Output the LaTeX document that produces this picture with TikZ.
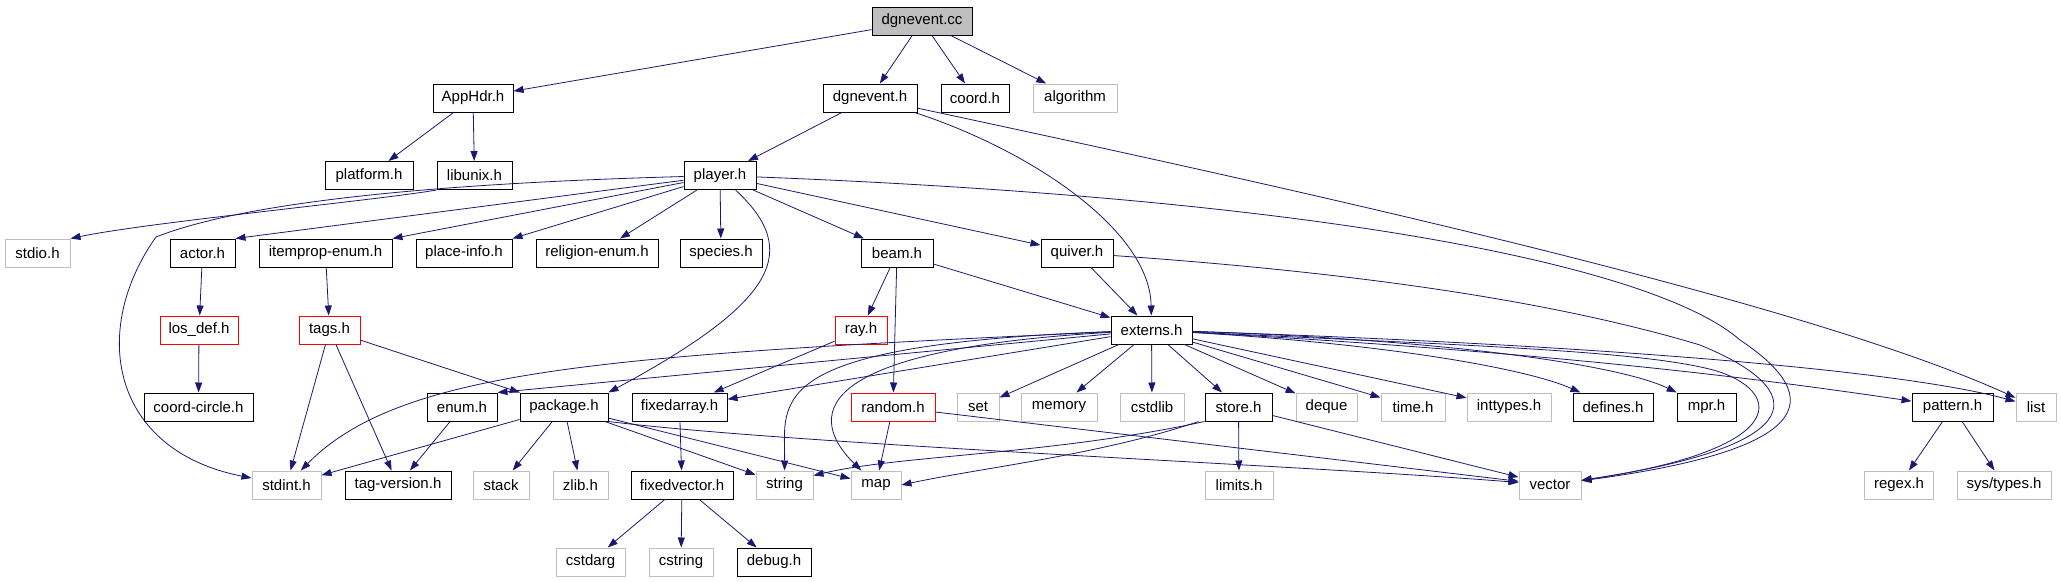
\documentclass[tikz,border=0pt]{standalone}
\usepackage{fontspec}
\setmainfont{Liberation Sans}
\usetikzlibrary{arrows.meta,calc}
\definecolor{navy}{RGB}{25,25,112}
\definecolor{grayb}{RGB}{191,191,191}
\begin{document}
\begin{tikzpicture}[x=1pt,y=-1pt,
  hdr/.style={draw=black, line width=1pt, fill=white, minimum height=28pt, inner sep=0pt, font=\fontsize{15}{18}\selectfont},
  sys/.style={hdr, draw=grayb},
  redb/.style={hdr, draw=red},
  root/.style={hdr, fill=grayb},
  conn/.style={draw=navy, line width=0.8pt, -{Triangle[length=10pt,width=7pt]}}]
\useasboundingbox (0,0) rectangle (2061,581);
% row 0
\node[root, minimum width=100pt] (cc) at (922,21) {dgnevent.cc};
% row 1
\node[hdr, minimum width=80pt] (apphdr) at (473,98) {AppHdr.h};
\node[hdr, minimum width=94pt] (dgh) at (870,98) {dgnevent.h};
\node[hdr, minimum width=68pt] (coord) at (975,98) {coord.h};
\node[sys, minimum width=84pt] (algo) at (1075,98) {algorithm};
% row 2
\node[hdr, minimum width=88pt] (platform) at (369,175.5) {platform.h};
\node[hdr, minimum width=75pt] (libunix) at (474.5,175.5) {libunix.h};
\node[hdr, minimum width=72pt] (player) at (720,175.5) {player.h};
% row 3
\node[sys, minimum width=65pt] (stdio) at (37.5,253) {stdio.h};
\node[hdr, minimum width=65pt] (actor) at (202.5,253) {actor.h};
\node[hdr, minimum width=133pt] (itemprop) at (325.5,253) {itemprop-enum.h};
\node[hdr, minimum width=96pt] (placeinfo) at (464,253) {place-info.h};
\node[hdr, minimum width=122pt] (religion) at (597,253) {religion-enum.h};
\node[hdr, minimum width=82pt] (species) at (721,253) {species.h};
\node[hdr, minimum width=72pt] (beam) at (897,253) {beam.h};
\node[hdr, minimum width=72pt] (quiver) at (1077,253) {quiver.h};
% row 4
\node[redb, minimum width=78pt] (losdef) at (199,330) {los\_def.h};
\node[redb, minimum width=61pt] (tags) at (329.5,330) {tags.h};
\node[redb, minimum width=52pt] (ray) at (861,330) {ray.h};
\node[hdr, minimum width=81pt] (externs) at (1151.5,330) {externs.h};
% row 5
\node[hdr, minimum width=109pt] (coordcircle) at (198.5,407) {coord-circle.h};
\node[hdr, minimum width=70pt] (enum) at (462,407) {enum.h};
\node[hdr, minimum width=88pt] (package) at (564,407) {package.h};
\node[hdr, minimum width=95pt] (fixedarray) at (679.5,407) {fixedarray.h};
\node[redb, minimum width=84pt] (random) at (893,407) {random.h};
\node[sys, minimum width=42pt] (set) at (978,407) {set};
\node[sys, minimum width=76pt] (memory) at (1059,407) {memory};
\node[sys, minimum width=64pt] (cstdlib) at (1152,407) {cstdlib};
\node[hdr, minimum width=67pt] (store) at (1238.5,407) {store.h};
\node[sys, minimum width=61pt] (deque) at (1326.5,407) {deque};
\node[sys, minimum width=64pt] (timeh) at (1413,407) {time.h};
\node[sys, minimum width=84pt] (inttypes) at (1509,407) {inttypes.h};
\node[hdr, minimum width=80pt] (defines) at (1613,407) {defines.h};
\node[hdr, minimum width=59pt] (mpr) at (1706.5,407) {mpr.h};
\node[hdr, minimum width=81pt] (pattern) at (1952.5,407) {pattern.h};
\node[sys, minimum width=40pt] (list) at (2036,407) {list};
% row 6
\node[sys, minimum width=69pt] (stdint) at (286.5,485) {stdint.h};
\node[hdr, minimum width=106pt] (tagversion) at (398,485) {tag-version.h};
\node[sys, minimum width=56pt] (stack) at (501,485) {stack};
\node[sys, minimum width=55pt] (zlib) at (580.5,485) {zlib.h};
\node[hdr, minimum width=102pt] (fixedvector) at (682,485) {fixedvector.h};
\node[sys, minimum width=57pt] (string) at (784.5,485) {string};
\node[sys, minimum width=50pt] (map) at (876,485) {map};
\node[sys, minimum width=68pt] (limits) at (1239,485) {limits.h};
\node[sys, minimum width=62pt] (vector) at (1550,485) {vector};
\node[sys, minimum width=69pt] (regex) at (1899,485) {regex.h};
\node[sys, minimum width=94pt] (systypes) at (2004,485) {sys/types.h};
% row 7
\node[sys, minimum width=69pt] (cstdarg) at (590.5,562) {cstdarg};
\node[sys, minimum width=64pt] (cstring) at (681,562) {cstring};
\node[hdr, minimum width=74pt] (debug) at (774,562) {debug.h};

% edges from dgnevent.cc
\draw[conn] (cc) -- (apphdr);
\draw[conn] (cc) -- (dgh);
\draw[conn] (cc) -- (coord);
\draw[conn] (cc) -- (algo);
% AppHdr
\draw[conn] (apphdr) -- (platform);
\draw[conn] (apphdr) -- (libunix);
\draw[conn] (libunix.south west) .. controls (380,200) and (150,222) .. (stdio.north east);
% dgnevent.h
\draw[conn] (dgh) -- (player);
\draw[conn] (dgh) .. controls (1030,150) and (1150,230) .. (externs);
\draw[conn] (dgh) .. controls (1300,190) and (1800,300) .. (list);
% player.h
\draw[conn] (player) .. controls (450,183) and (250,200) .. (156,237) .. controls (90,330) and (110,450) .. (stdint);
\draw[conn] (player) -- (actor.north east);
\draw[conn] (player) -- (itemprop.north east);
\draw[conn] (player) -- (placeinfo.north east);
\draw[conn] (player) -- (religion);
\draw[conn] (player) -- (species);
\draw[conn] (player) .. controls (800,250) and (780,300) .. (package.north east);
\draw[conn] (player) -- (beam);
\draw[conn] (player) -- (quiver);
\draw[conn] (player) .. controls (1350,200) and (1660,270) .. (1740,340) .. controls (1830,400) and (1810,450) .. (vector);
% actor, itemprop, los_def, tags
\draw[conn] (actor) -- (losdef);
\draw[conn] (losdef) -- (coordcircle);
\draw[conn] (itemprop) -- (tags);
\draw[conn] (tags) -- (stdint);
\draw[conn] (tags) -- (tagversion);
\draw[conn] (tags) -- (package);
% beam, quiver
\draw[conn] (beam) -- (ray);
\draw[conn] (beam) -- (random);
\draw[conn] (beam) -- (externs);
\draw[conn] (quiver) -- (externs);
\draw[conn] (quiver) .. controls (1350,272) and (1550,300) .. (1700,345) .. controls (1810,390) and (1815,445) .. (vector);
\draw[conn] (ray) -- (fixedarray);
% externs.h
\draw[conn] (externs) .. controls (600,355) and (400,370) .. (stdint);
\draw[conn] (externs) -- (enum.north east);
\draw[conn] (externs) -- (fixedarray);
\draw[conn] (externs) .. controls (760,345) and (785,400) .. (string);
\draw[conn] (externs) .. controls (800,350) and (810,420) .. (map);
\draw[conn] (externs) -- (set);
\draw[conn] (externs) -- (memory);
\draw[conn] (externs) -- (cstdlib);
\draw[conn] (externs) -- (store);
\draw[conn] (externs) -- (deque);
\draw[conn] (externs) -- (timeh);
\draw[conn] (externs) -- (inttypes);
\draw[conn] (externs) .. controls (1400,345) and (1530,370) .. (defines);
\draw[conn] (externs) .. controls (1450,340) and (1620,365) .. (mpr);
\draw[conn] (externs) .. controls (1600,355) and (1800,385) .. (pattern);
\draw[conn] (externs) .. controls (1600,345) and (1900,370) .. (list);
\draw[conn] (externs) .. controls (1450,345) and (1650,350) .. (1720,372) .. controls (1785,395) and (1785,450) .. (vector);
% store.h
\draw[conn] (store) -- (limits);
\draw[conn] (store) -- (vector);
\draw[conn] (store.south west) .. controls (1050,455) and (900,455) .. ($(string.north east)+(0,5)$);
\draw[conn] ([xshift=-40pt]store.south) .. controls (1100,455) and (980,468) .. (map.east);
% random.h
\draw[conn] (random) -- (map);
\draw[conn] (random) -- (vector);
% package.h
\draw[conn] (package.south east) .. controls (800,445) and (1300,465) .. (vector);
\draw[conn] (package) -- (map);
\draw[conn] (package) -- (string);
\draw[conn] (package) -- (stdint);
\draw[conn] (package) -- (stack);
\draw[conn] (package) -- (zlib);
% enum.h
\draw[conn] (enum) -- (tagversion);
% fixedarray, fixedvector
\draw[conn] (fixedarray) -- (fixedvector);
\draw[conn] (fixedvector) -- (cstdarg);
\draw[conn] (fixedvector) -- (cstring);
\draw[conn] (fixedvector) -- (debug);
% pattern.h
\draw[conn] (pattern) -- (regex);
\draw[conn] (pattern) -- (systypes);
\end{tikzpicture}
\end{document}
